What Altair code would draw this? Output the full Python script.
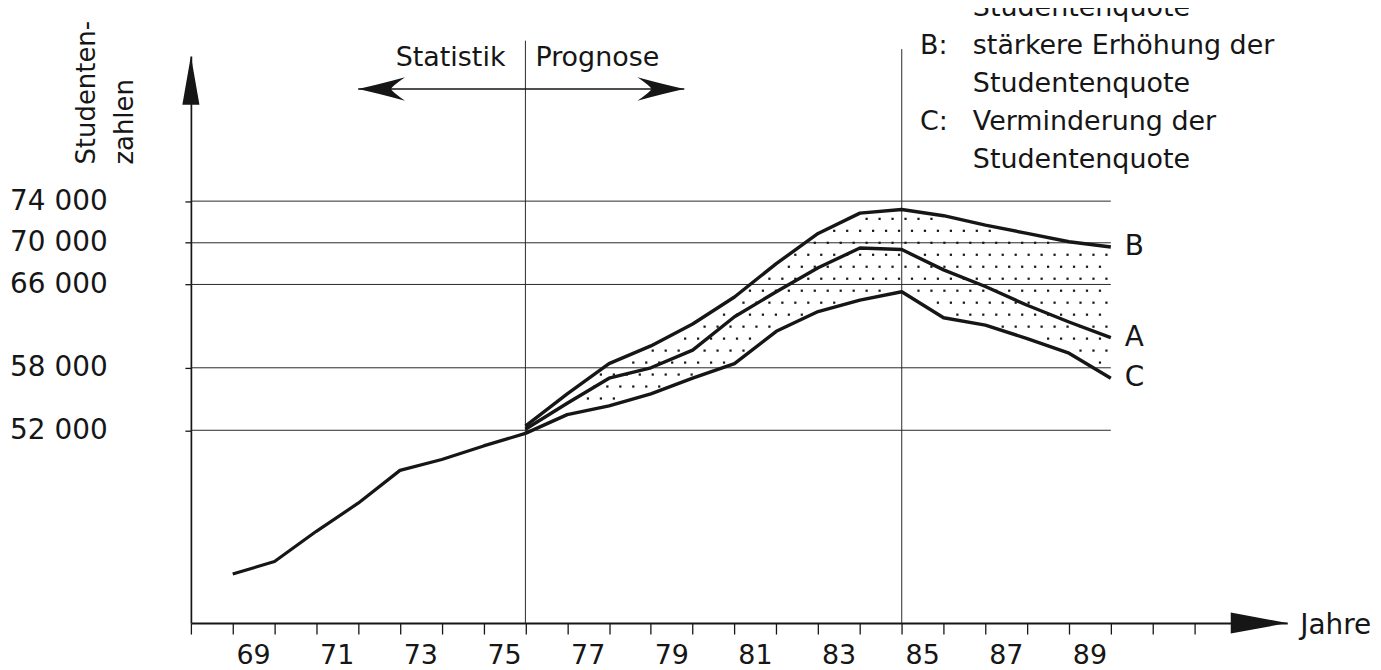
import altair as alt
import pandas as pd

# ---------------- data ----------------
hist_years = [69, 70, 71, 72, 73, 74, 75, 76]
hist_students = [38200, 39400, 42300, 45000, 48150, 49200, 50500, 51700]

prog_years = [76, 77, 78, 79, 80, 81, 82, 83, 84, 85, 86, 87, 88, 89, 90]
prog_B = [52400, 55500, 58400, 60100, 62200, 64800, 68000, 70900, 72850, 73200, 72600, 71700, 70900, 70100, 69600]
prog_A = [52100, 54600, 57000, 58000, 59700, 62900, 65300, 67600, 69500, 69350, 67400, 65800, 64000, 62400, 60900]
prog_C = [51700, 53500, 54350, 55500, 57000, 58400, 61500, 63400, 64500, 65300, 62800, 62100, 60800, 59400, 57000]

y_ticks = [52000, 58000, 66000, 70000, 74000]
x_tick_years = list(range(68, 93))
x_label_years = [69, 71, 73, 75, 77, 79, 81, 83, 85, 87, 89]
phase_years = [76, 85]
phase_texts = ["Statistik", "Prognose"]
y_title = ["Studenten-", "zahlen"]
x_title = "Jahre"
legend_keys = ["B:", "C:"]
legend_texts = ["Studentenquote", "stärkere Erhöhung der", "Studentenquote",
                "Verminderung der", "Studentenquote"]

# ---------------- styling / layout ----------------
FONT = "DejaVu Sans"
INK = "#161616"
X_DOM = [68, 94.22]
Y_DOM = [33490, 87940]
W, H = 1100, 569
ARROW_SPAN = [72.0, 79.8]
ARROW_Y = 84760
PHASE_TEXT_Y = 86990
VLINE_TOP = [89400, 88600]
LEG_TOP, LEG_LH = -40.3, 38.3

xs = alt.Scale(domain=X_DOM, nice=False, zero=False)
ys = alt.Scale(domain=Y_DOM, nice=False, zero=False)

x_axis = alt.Axis(
    values=x_tick_years, labels=False, tickSize=11, tickWidth=1.3, tickColor=INK,
    domainColor=INK, domainWidth=2, grid=False, title=None,
)
y_axis = alt.Axis(
    values=y_ticks,
    labelExpr="replace(format(datum.value, ','), ',', ' ')",
    tickSize=6, tickWidth=1.3, tickColor=INK,
    domainColor=INK, domainWidth=1.7, labelPadding=78,
    labelFont=FONT, labelFontSize=28, labelColor=INK,
    grid=False, title=None, labelOverlap=False, labelFlush=False,
)


def X(f):
    return alt.X(f, scale=xs, axis=x_axis)


def Y(f):
    return alt.Y(f, scale=ys, axis=y_axis)


hist_df = pd.DataFrame({"year": hist_years, "students": hist_students})
fan_df = pd.DataFrame({"year": prog_years, "B": prog_B, "A": prog_A, "C": prog_C})
fan_long = fan_df.melt(id_vars="year", var_name="series", value_name="students")

# x tick labels, centred in each year's interval
xl_df = pd.DataFrame({"year": x_label_years, "base": Y_DOM[0]})
x_labels = (
    alt.Chart(xl_df)
    .transform_calculate(mid="datum.year + 0.5")
    .mark_text(align="center", baseline="top", dy=20, font=FONT, fontSize=27, color=INK)
    .encode(x=X("mid:Q"), y=Y("base:Q"), text=alt.Text("year:Q", format="d"))
)

# horizontal reference lines
grid_df = pd.DataFrame({"v": y_ticks, "x0": X_DOM[0], "x1": prog_years[-1]})
grid = alt.Chart(grid_df).mark_rule(color="#2a2a2a", strokeWidth=1).encode(
    x=X("x0:Q"), x2="x1:Q", y=Y("v:Q"),
)

# vertical phase lines
vl_df = pd.DataFrame({"year": phase_years, "top": VLINE_TOP, "bottom": Y_DOM[0]})
vlines = alt.Chart(vl_df).mark_rule(color="#2a2a2a", strokeWidth=1).encode(
    x=X("year:Q"), y=Y("bottom:Q"), y2="top:Q",
)

# stippled band between B and C
NCOL, NROW = 46, 20
dots = (
    alt.Chart(alt.sequence(0, NCOL * NROW, as_="i"))
    .transform_calculate(col=f"datum.i % {NCOL}", row=f"floor(datum.i / {NCOL})")
    .transform_calculate(u="76.1 + datum.col * 0.31 + (datum.row % 2) * 0.155")
    .transform_calculate(v="51600 + datum.row * 1150")
    .transform_calculate(k="floor(datum.u)")
    .transform_calculate(k1="datum.k + 1")
    .transform_filter("datum.u < 90")
    .transform_lookup(lookup="k", from_=alt.LookupData(data=fan_df, key="year", fields=["B", "C"]), as_=["B0", "C0"])
    .transform_lookup(lookup="k1", from_=alt.LookupData(data=fan_df, key="year", fields=["B", "C"]), as_=["B1", "C1"])
    .transform_calculate(t="datum.u - datum.k")
    .transform_calculate(hi="datum.B0 + datum.t * (datum.B1 - datum.B0)")
    .transform_calculate(lo="datum.C0 + datum.t * (datum.C1 - datum.C0)")
    .transform_filter("datum.v < datum.hi - 380 && datum.v > datum.lo + 380")
    .mark_point(shape="square", size=5, filled=True, color=INK, opacity=1, strokeWidth=0)
    .encode(x=X("u:Q"), y=Y("v:Q"))
)

hist = alt.Chart(hist_df).mark_line(color=INK, strokeWidth=3.2, strokeJoin="round").encode(
    x=X("year:Q"), y=Y("students:Q"),
)

fan = alt.Chart(fan_long).mark_line(color=INK, strokeWidth=3.4, strokeJoin="round").encode(
    x=X("year:Q"), y=Y("students:Q"), detail="series:N",
)

end_labels = (
    alt.Chart(fan_long)
    .transform_filter(f"datum.year == {prog_years[-1]}")
    .mark_text(align="left", baseline="middle", dx=14, font=FONT, fontSize=28, color=INK)
    .encode(x=X("year:Q"), y=Y("students:Q"), text="series:N")
)

# axis arrowheads
one = pd.DataFrame({"x": [X_DOM[0]], "y": [Y_DOM[1]]})
y_arrow = alt.Chart(one).mark_point(
    shape="M0,0L0.35,2L-0.35,2Z", size=2401, filled=True, color=INK, opacity=1, strokeWidth=0
).encode(x=X("x:Q"), y=Y("y:Q"))

two = pd.DataFrame({"x": [X_DOM[1]], "y": [Y_DOM[0]]})
x_arrow = alt.Chart(two).mark_point(
    shape="M0,0L-2,-0.37L-2,0.37Z", size=3215, filled=True, color=INK, opacity=1, strokeWidth=0
).encode(x=X("x:Q"), y=Y("y:Q"))

jahre = alt.Chart(two.assign(t=x_title)).mark_text(
    align="left", baseline="middle", dx=13, dy=3, font=FONT, fontSize=28, color=INK
).encode(x=X("x:Q"), y=Y("y:Q"), text="t:N")

# Statistik / Prognose double arrow
arr_df = pd.DataFrame({"x0": [ARROW_SPAN[0]], "x1": [ARROW_SPAN[1]], "y": [ARROW_Y]})
arr_line = alt.Chart(arr_df).mark_rule(color=INK, strokeWidth=1.5).encode(
    x=X("x0:Q"), x2="x1:Q", y=Y("y:Q")
)
right_head = alt.Chart(arr_df).mark_point(
    shape="M0,0Q-0.9,-0.2,-2,-0.5Q-1.45,-0.12,-1.4,0Q-1.45,0.12,-2,0.5Q-0.9,0.2,0,0Z",
    size=2209, filled=True, color=INK, opacity=1, strokeWidth=0,
).encode(x=X("x1:Q"), y=Y("y:Q"))
left_head = alt.Chart(arr_df).mark_point(
    shape="M0,0Q0.9,-0.2,2,-0.5Q1.45,-0.12,1.4,0Q1.45,0.12,2,0.5Q0.9,0.2,0,0Z",
    size=2209, filled=True, color=INK, opacity=1, strokeWidth=0,
).encode(x=X("x0:Q"), y=Y("y:Q"))

ph_df = pd.DataFrame({"x": [phase_years[0]], "y": [PHASE_TEXT_Y]})
stat_txt = alt.Chart(ph_df.assign(t=phase_texts[0])).mark_text(
    align="right", baseline="alphabetic", dx=-20, font=FONT, fontSize=27, color=INK
).encode(x=X("x:Q"), y=Y("y:Q"), text="t:N")
prog_txt = alt.Chart(ph_df.assign(t=phase_texts[1])).mark_text(
    align="left", baseline="alphabetic", dx=10, font=FONT, fontSize=27, color=INK
).encode(x=X("x:Q"), y=Y("y:Q"), text="t:N")

# y title (rotated, two lines)
dummy = pd.DataFrame({"a": [0]})
ytitle = alt.Chart(dummy).mark_text(
    text=y_title, angle=270, align="left", baseline="alphabetic", lineHeight=38,
    font=FONT, fontSize=26, color=INK,
).encode(x=alt.value(-96.5), y=alt.value(109))

# legend block (top right)
key_b = alt.Chart(dummy).mark_text(
    text=legend_keys[0], align="left", baseline="alphabetic",
    font=FONT, fontSize=27, color=INK,
).encode(x=alt.value(731.5), y=alt.value(LEG_TOP + LEG_LH))
key_c = alt.Chart(dummy).mark_text(
    text=legend_keys[1], align="left", baseline="alphabetic",
    font=FONT, fontSize=27, color=INK,
).encode(x=alt.value(731.5), y=alt.value(LEG_TOP + 3 * LEG_LH))
leg_txt = alt.Chart(dummy).mark_text(
    text=legend_texts, align="left", baseline="alphabetic", lineHeight=LEG_LH,
    font=FONT, fontSize=27, color=INK,
).encode(x=alt.value(784.5), y=alt.value(LEG_TOP))

chart = (
    alt.layer(grid, vlines, dots, hist, fan, end_labels, x_labels, y_arrow, x_arrow, jahre,
              arr_line, right_head, left_head, stat_txt, prog_txt, ytitle, key_b, key_c, leg_txt)
    .properties(
        width=W, height=H,
        autosize=alt.AutoSizeParams(type="none"),
        padding={"left": 183.5, "top": 47, "right": 86, "bottom": 50},
        background="white",
    )
    .configure_view(stroke=None)
)

chart.save("out.html", embed_options={"renderer": "svg", "actions": False})
